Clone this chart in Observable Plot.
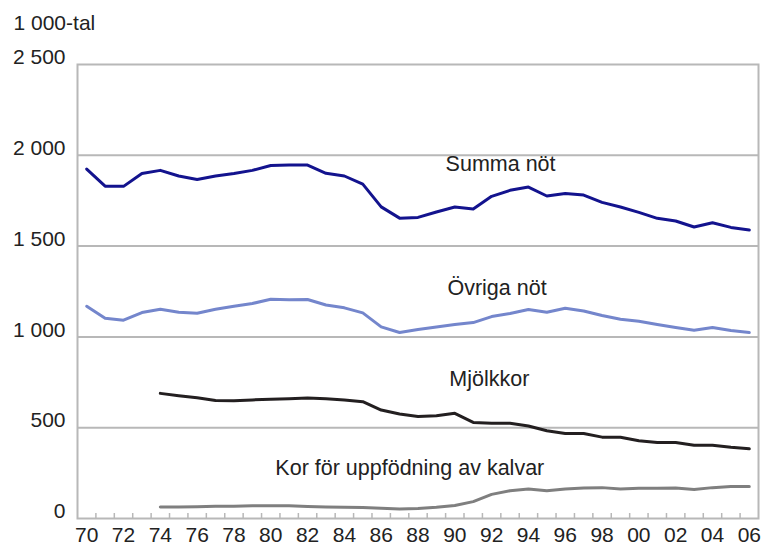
<!DOCTYPE html>
<html>
<head>
<meta charset="utf-8">
<script src="https://cdn.jsdelivr.net/npm/d3@7"></script>
<script src="https://cdn.jsdelivr.net/npm/@observablehq/plot@0.6"></script>
<style>
  html, body { margin: 0; padding: 0; background: #fff; }
  #chart svg { display: block; }
</style>
</head>
<body>
<div id="chart"></div>
<script>
// Years 1970–2006
const years = d3.range(1970, 2007);
const years74 = d3.range(1974, 2007);

// Series values (1 000-tal)
const summaNot = [1924,1830,1829,1900,1917,1886,1867,1886,1900,1917,
                  1944,1946,1946,1901,1886,1841,1716,1654,1658,1688,
                  1715,1704,1774,1807,1825,1776,1790,1781,1741,1715,
                  1686,1653,1638,1605,1629,1603,1589];
const ovrigaNot = [1169,1103,1092,1134,1152,1136,1130,1152,1169,1184,
                   1207,1204,1206,1176,1160,1132,1055,1024,1041,1055,
                   1068,1079,1112,1129,1151,1136,1158,1143,1118,1097,
                   1086,1068,1052,1037,1052,1035,1024];
const mjolkkor = [689,676,665,650,648,653,
                  656,659,663,659,653,643,597,575,562,566,
                  579,529,525,524,509,483,468,468,448,447,
                  428,419,419,403,403,392,384];
const korKalvar = [63,64,65,67,68,70,
                   70,70,66,64,62,60,56,52,55,62,
                   72,93,133,153,162,153,162,168,170,162,
                   166,166,168,160,170,176,176];

// Tick values and labels
const yTicks = [0, 500, 1000, 1500, 2000, 2500];
const yTickLabels = ["0", "500", "1 000", "1 500", "2 000", "2 500"];
const xLabelYears = d3.range(1970, 2007, 2);
const xTickLabels = ["70","72","74","76","78","80","82","84","86","88","90","92","94","96","98","00","02","04","06"];
const unitLabel = "1 000-tal";

// Series labels and anchor positions (data coordinates)
const seriesNames = ["Summa nöt", "Övriga nöt", "Mjölkkor", "Kor för uppfödning av kalvar"];
const labelYear = [1989.5, 1989.6, 1989.7, 1980.25];
const labelValue = [1949, 1270, 769, 279];

const colors = {
  summa: "#13138e",
  ovriga: "#7486cc",
  mjolk: "#231f20",
  kor: "#7f7f7f"
};

const mk = (xs, vs) => xs.map((x, i) => ({year: x, value: vs[i]}));
const dSumma = mk(years, summaNot);
const dOvriga = mk(years, ovrigaNot);
const dMjolk = mk(years74, mjolkkor);
const dKor = mk(years74, korKalvar);
const labels = seriesNames.map((t, i) => ({text: t, year: labelYear[i], value: labelValue[i]}));
const boundaries = years.slice(0, -1).map(y => y + 0.5);

const gridColor = "#b8b8b8";

const chart = Plot.plot({
  width: 764,
  height: 547,
  marginLeft: 77,
  marginRight: 6,
  marginTop: 64,
  marginBottom: 29,
  style: {fontFamily: "'Liberation Sans', Arial, sans-serif", fontSize: "21px", color: "#222", background: "#fff"},
  x: {domain: [1969.5, 2006.5]},
  y: {domain: [0, 2500]},
  marks: [
    Plot.ruleY([500, 1000, 1500, 2000], {stroke: gridColor, strokeWidth: 2}),
    Plot.frame({stroke: gridColor, strokeWidth: 2}),
    Plot.tickX(boundaries, {x: d => d, insetTop: 449, stroke: gridColor, strokeWidth: 1.5}),
    Plot.axisY({ticks: yTicks, tickFormat: d => yTickLabels[yTicks.indexOf(d)], tickSize: 0, tickPadding: 12, dy: -7, fontSize: 21, label: null}),
    Plot.axisX({ticks: xLabelYears, tickFormat: d => xTickLabels[xLabelYears.indexOf(d)], tickSize: 0, tickPadding: 9, fontSize: 21, label: null}),
    Plot.text([unitLabel], {frameAnchor: "top-left", dx: -64, dy: -41, textAnchor: "start", lineAnchor: "middle", fontSize: 21, fill: "#222"}),
    Plot.line(dKor, {x: "year", y: "value", stroke: colors.kor, strokeWidth: 3}),
    Plot.line(dMjolk, {x: "year", y: "value", stroke: colors.mjolk, strokeWidth: 3}),
    Plot.line(dOvriga, {x: "year", y: "value", stroke: colors.ovriga, strokeWidth: 3}),
    Plot.line(dSumma, {x: "year", y: "value", stroke: colors.summa, strokeWidth: 3}),
    Plot.text(labels, {x: "year", y: "value", text: "text", textAnchor: "start", fontSize: 21.5, fill: "#222"})
  ]
});
document.getElementById("chart").append(chart);
</script>
</body>
</html>
